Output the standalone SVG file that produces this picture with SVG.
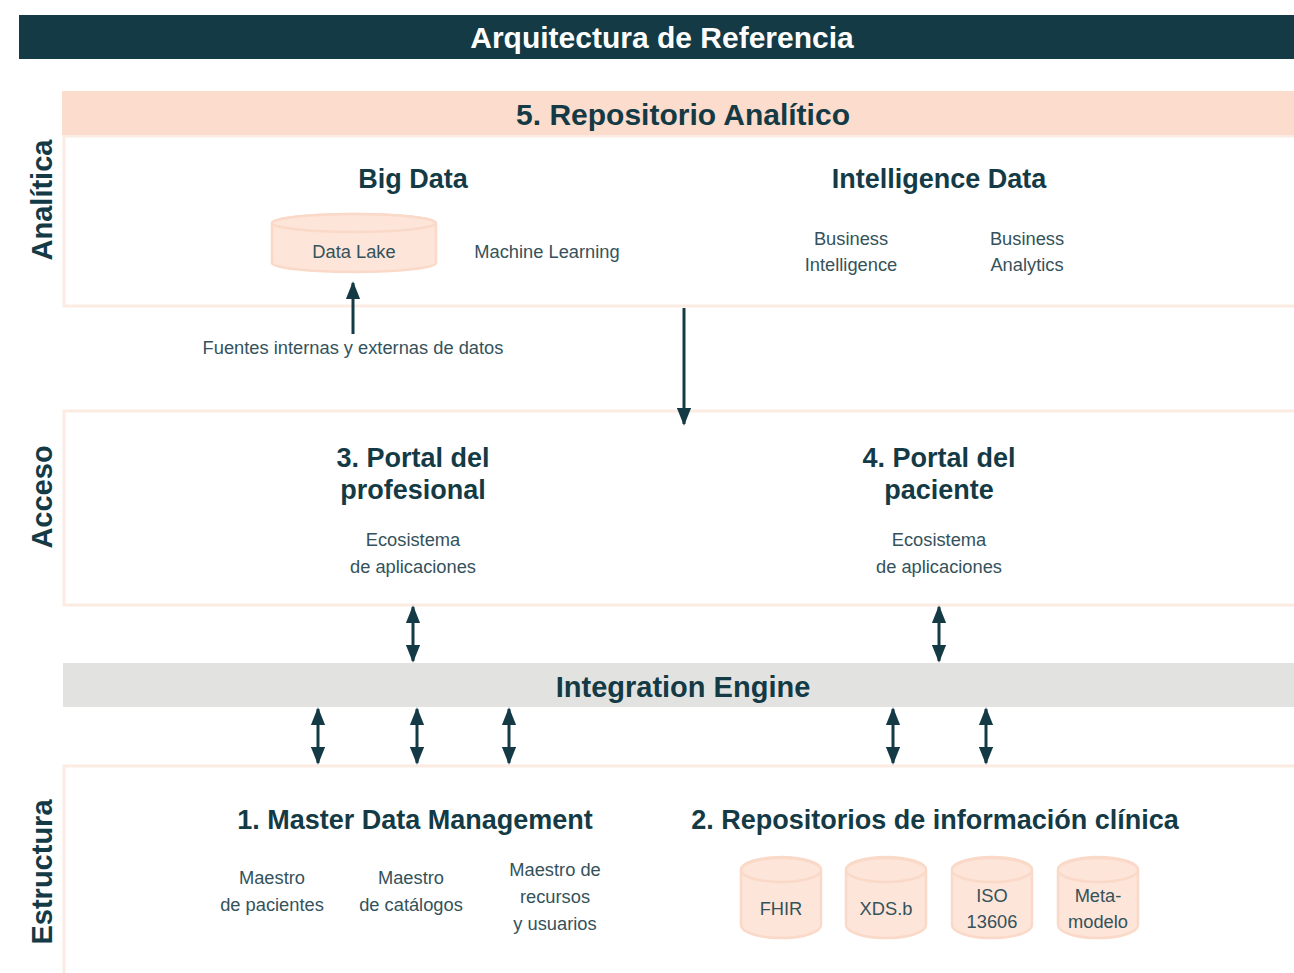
<svg xmlns="http://www.w3.org/2000/svg" width="1294" height="973" viewBox="0 0 1294 973">
<style>
text{font-family:"Liberation Sans",Arial,sans-serif;fill:#133a45;text-anchor:middle}
.h{font-weight:bold;font-size:27px}
.b{font-size:18.3px;fill:#34525b}
.side{font-weight:bold;font-size:29px}
.panel{fill:#fff;stroke:#fcebe2;stroke-width:3}
.cyl{fill:#fde5d9;stroke:#fad9c8;stroke-width:2.5}
.arr{stroke:#133a45;stroke-width:3;fill:none}
</style>
<defs>
<marker id="ah" viewBox="0 0 10 8" refX="9" refY="4" markerWidth="6" markerHeight="4.8" orient="auto-start-reverse" markerUnits="strokeWidth">
<path d="M0,0 L10,4 L0,8 z" fill="#133a45"/>
</marker>
</defs>
<rect width="1294" height="973" fill="#fff"/>
<g id="header">
<rect x="19" y="15" width="1275" height="44" fill="#133a45"/>
<text x="662" y="48" style="fill:#fff;font-weight:bold;font-size:30px">Arquitectura de Referencia</text>
</g>
<g id="side-labels">
<text class="side" transform="translate(52,200) rotate(-90)">Analítica</text>
<text class="side" transform="translate(52,497) rotate(-90)">Acceso</text>
<text class="side" transform="translate(52,872) rotate(-90)">Estructura</text>
</g>
<g id="analitica">
<path class="panel" d="M1296,136 H64 V306 H1296"/>
<rect x="62" y="91" width="1232" height="44" fill="#fcdccd"/>
<text x="683" y="125" style="font-weight:bold;font-size:30px">5. Repositorio Analítico</text>
</g>
<g id="big-data">
<text class="h" x="413" y="188">Big Data</text>
<text class="b" x="547" y="258">Machine Learning</text>
</g>
<g id="data-lake">
<path class="cyl" d="M272,223 V263 A82,9 0 0 0 436,263 V223 A82,9 0 0 0 272,223 Z"/>
<ellipse class="cyl" cx="354" cy="223" rx="82" ry="9"/>
<text class="b" x="354" y="258">Data Lake</text>
</g>
<g id="intelligence-data">
<text class="h" x="939" y="188">Intelligence Data</text>
<text class="b" x="851" y="245">Business</text>
<text class="b" x="851" y="271">Intelligence</text>
<text class="b" x="1027" y="245">Business</text>
<text class="b" x="1027" y="271">Analytics</text>
</g>
<g id="fuentes">
<text class="b" x="353" y="354">Fuentes internas y externas de datos</text>
</g>
<g id="acceso">
<path class="panel" d="M1296,411 H64 V605 H1296"/>
</g>
<g id="portal-profesional">
<text class="h" x="413" y="467">3. Portal del</text>
<text class="h" x="413" y="499">profesional</text>
<text class="b" x="413" y="546">Ecosistema</text>
<text class="b" x="413" y="573">de aplicaciones</text>
</g>
<g id="portal-paciente">
<text class="h" x="939" y="467">4. Portal del</text>
<text class="h" x="939" y="499">paciente</text>
<text class="b" x="939" y="546">Ecosistema</text>
<text class="b" x="939" y="573">de aplicaciones</text>
</g>
<g id="integration-engine">
<rect x="63" y="663" width="1231" height="44" fill="#e2e3e1"/>
<text x="683" y="697" style="font-weight:bold;font-size:29px">Integration Engine</text>
</g>
<g id="estructura">
<path class="panel" d="M1296,766 H64 V975"/>
</g>
<g id="mdm">
<text class="h" x="415" y="829">1. Master Data Management</text>
<text class="b" x="272" y="884">Maestro</text>
<text class="b" x="272" y="911">de pacientes</text>
<text class="b" x="411" y="884">Maestro</text>
<text class="b" x="411" y="911">de catálogos</text>
<text class="b" x="555" y="876">Maestro de</text>
<text class="b" x="555" y="903">recursos</text>
<text class="b" x="555" y="930">y usuarios</text>
</g>
<g id="repositorios">
<text class="h" x="935" y="829">2. Repositorios de información clínica</text>
</g>
<g id="fhir">
<path class="cyl" d="M741,870 V925 A40,13 0 0 0 821,925 V870 A40,13 0 0 0 741,870 Z"/>
<ellipse class="cyl" cx="781" cy="870" rx="40" ry="12"/>
<text class="b" x="781" y="915">FHIR</text>
</g>
<g id="xdsb">
<path class="cyl" d="M846,870 V925 A40,13 0 0 0 926,925 V870 A40,13 0 0 0 846,870 Z"/>
<ellipse class="cyl" cx="886" cy="870" rx="40" ry="12"/>
<text class="b" x="886" y="915">XDS.b</text>
</g>
<g id="iso13606">
<path class="cyl" d="M952,870 V925 A40,13 0 0 0 1032,925 V870 A40,13 0 0 0 952,870 Z"/>
<ellipse class="cyl" cx="992" cy="870" rx="40" ry="12"/>
<text class="b" x="992" y="902">ISO</text>
<text class="b" x="992" y="928">13606</text>
</g>
<g id="metamodelo">
<path class="cyl" d="M1058,870 V925 A40,13 0 0 0 1138,925 V870 A40,13 0 0 0 1058,870 Z"/>
<ellipse class="cyl" cx="1098" cy="870" rx="40" ry="12"/>
<text class="b" x="1098" y="902">Meta-</text>
<text class="b" x="1098" y="928">modelo</text>
</g>
<g id="connectors">
<line class="arr" x1="353" y1="334" x2="353" y2="283" marker-end="url(#ah)"/>
<line class="arr" x1="684" y1="308" x2="684" y2="424" marker-end="url(#ah)"/>
<line class="arr" x1="413" y1="607" x2="413" y2="661" marker-start="url(#ah)" marker-end="url(#ah)"/>
<line class="arr" x1="939" y1="607" x2="939" y2="661" marker-start="url(#ah)" marker-end="url(#ah)"/>
<line class="arr" x1="318" y1="709" x2="318" y2="763" marker-start="url(#ah)" marker-end="url(#ah)"/>
<line class="arr" x1="417" y1="709" x2="417" y2="763" marker-start="url(#ah)" marker-end="url(#ah)"/>
<line class="arr" x1="509" y1="709" x2="509" y2="763" marker-start="url(#ah)" marker-end="url(#ah)"/>
<line class="arr" x1="893" y1="709" x2="893" y2="763" marker-start="url(#ah)" marker-end="url(#ah)"/>
<line class="arr" x1="986" y1="709" x2="986" y2="763" marker-start="url(#ah)" marker-end="url(#ah)"/>
</g>
</svg>
